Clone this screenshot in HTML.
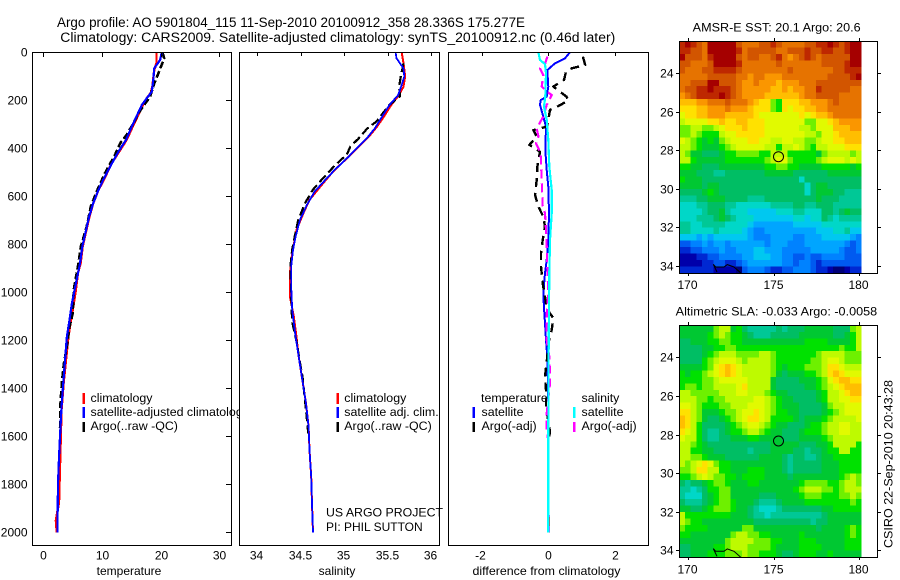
<!DOCTYPE html>
<html lang="en">
<head>
<meta charset="utf-8">
<title>Argo profile 5901804_115</title>
<style>
html,body{margin:0;padding:0;background:#fff;}
svg{display:block;}
text{font-family:"Liberation Sans",sans-serif;font-size:12px;fill:#000;}
.title{font-size:13.5px;}
.lg{font-size:12.4px;}
.mid{text-anchor:middle;}
.end{text-anchor:end;}
</style>
</head>
<body>
<svg id="fig" xmlns="http://www.w3.org/2000/svg" width="900" height="580" viewBox="0 0 900 580">
<defs>
<clipPath id="clip-t"><rect x="33" y="53" width="198" height="492"/></clipPath>
<clipPath id="clip-s"><rect x="240" y="53" width="199" height="492"/></clipPath>
<clipPath id="clip-d"><rect x="449" y="53" width="199" height="492"/></clipPath>
<clipPath id="clip-m1"><rect x="680" y="42" width="197" height="231"/></clipPath>
<clipPath id="clip-m2"><rect x="680" y="326" width="197" height="231"/></clipPath>
</defs>
<rect x="0" y="0" width="900" height="580" fill="#fff"/>
<text class="title" x="57" y="27" textLength="468" lengthAdjust="spacingAndGlyphs">Argo profile: AO 5901804_115 11-Sep-2010 20100912_358 28.336S 175.277E</text>
<text class="title" x="60.3" y="42" textLength="555" lengthAdjust="spacingAndGlyphs">Climatology: CARS2009. Satellite-adjusted climatology: synTS_20100912.nc (0.46d later)</text>

<g id="p1">
<rect x="32.5" y="52.5" width="199" height="493" fill="#fff"/>
<g id="p1-data" clip-path="url(#clip-t)"></g>
<g id="p1-ticks"></g>
<rect x="32.5" y="52.5" width="199" height="493" fill="none" stroke="#000" stroke-width="1"/>
<rect x="82.5" y="393" width="2.5" height="11" fill="#f00"/>
<rect x="82.5" y="407" width="2.5" height="11" fill="#00f"/>
<rect x="82.5" y="422" width="2.5" height="10" fill="#000"/>
<text class="lg" x="90.5" y="402">climatology</text>
<text class="lg" x="90.5" y="416">satellite-adjusted climatology</text>
<text class="lg" x="90.5" y="430">Argo(..raw -QC)</text>
<text class="mid" x="129" y="575">temperature</text>
</g>

<g id="p2">
<rect x="239.5" y="52.5" width="200" height="493" fill="#fff"/>
<g id="p2-data" clip-path="url(#clip-s)"></g>
<g id="p2-ticks"></g>
<rect x="239.5" y="52.5" width="200" height="493" fill="none" stroke="#000" stroke-width="1"/>
<rect x="336.5" y="393" width="2.5" height="11" fill="#f00"/>
<rect x="336.5" y="407" width="2.5" height="11" fill="#00f"/>
<rect x="336.5" y="422" width="2.5" height="10" fill="#000"/>
<text class="lg" x="344.3" y="402">climatology</text>
<text class="lg" x="344.3" y="416">satellite adj. clim.</text>
<text class="lg" x="344.3" y="430">Argo(..raw -QC)</text>
<text x="326" y="516.5" textLength="117" lengthAdjust="spacingAndGlyphs">US ARGO PROJECT</text>
<text x="326" y="531">PI: PHIL SUTTON</text>
<text class="mid" x="337" y="575">salinity</text>
</g>

<g id="p3">
<rect x="448.5" y="52.5" width="200" height="493" fill="#fff"/>
<g id="p3-data" clip-path="url(#clip-d)"></g>
<g id="p3-ticks"></g>
<rect x="448.5" y="52.5" width="200" height="493" fill="none" stroke="#000" stroke-width="1"/>
<text class="lg" x="481" y="402">temperature</text>
<rect x="472.5" y="407" width="2.5" height="11" fill="#00f"/>
<rect x="472.5" y="422" width="2.5" height="10" fill="#000"/>
<text class="lg" x="481.5" y="416">satellite</text>
<text class="lg" x="481.5" y="430">Argo(-adj)</text>
<text class="lg" x="581.5" y="402">salinity</text>
<rect x="573" y="407" width="2.5" height="11" fill="#0ff"/>
<rect x="573" y="422" width="2.5" height="10" fill="#f0f"/>
<text class="lg" x="581.5" y="416">satellite</text>
<text class="lg" x="581.5" y="430">Argo(-adj)</text>
<text class="mid" x="546.5" y="575" textLength="148" lengthAdjust="spacingAndGlyphs">difference from climatology</text>
</g>

<g id="m1">
<text x="692.7" y="31.5" textLength="168" lengthAdjust="spacingAndGlyphs">AMSR-E SST: 20.1 Argo: 20.6</text>
<g id="m1-cells" clip-path="url(#clip-m1)"></g>
<g id="m1-over" clip-path="url(#clip-m1)"></g>
<g id="m1-ticks"></g>
<rect x="679.5" y="41.5" width="198" height="232" fill="none" stroke="#000" stroke-width="1"/>
</g>

<g id="m2">
<text x="675.7" y="315.5" textLength="201.5" lengthAdjust="spacingAndGlyphs">Altimetric SLA: -0.033 Argo: -0.0058</text>
<g id="m2-cells" clip-path="url(#clip-m2)"></g>
<g id="m2-over" clip-path="url(#clip-m2)"></g>
<g id="m2-ticks"></g>
<rect x="679.5" y="325.5" width="198" height="232" fill="none" stroke="#000" stroke-width="1"/>
</g>

<text class="mid" transform="translate(892.7 464) rotate(-90)" textLength="168" lengthAdjust="spacingAndGlyphs">CSIRO 22-Sep-2010 20:43:28</text>
</svg>

<script>
// ---- tick labels ----
const depthTicks = [0,200,400,600,800,1000,1200,1400,1600,1800,2000];
const tempTicks = [0,10,20,30];
const salTicks = [34,34.5,35,35.5,36];
const diffTicks = [-2,0,2];
const lonTicks = [170,175,180];
const latTicks = [24,26,28,30,32,34];

// ---- temperature panel series ----
const tClimDepth = [0,46,74,143,170,192,219,261,303,365,407,462,532,574,629,685,740,810,879,920,988,1062,1180,1285,1382,1490,1674,1875,1951,2000];
const tClimVals = [19.3,19.3,18.9,18.6,18.3,17.6,17.0,16.2,15.35,14.2,13.1,11.65,10.3,9.4,8.5,7.85,7.35,6.7,6.35,5.9,5.55,5.1,4.3,3.85,3.45,3.1,2.9,2.67,2.15,2.3];
const tSatDepth = [0,32,67,115,164,192,219,261,303,365,414,476,532,574,629,685,740,810,879,935,988,1049,1118,1188,1285,1382,1479,1576,1688,1799,2000];
const tSatVals = [20.2,19.9,18.9,18.75,18.5,17.6,16.8,16.0,15.2,14.1,12.8,11.4,10.2,9.4,8.5,7.8,7.3,6.65,6.25,5.8,5.35,4.85,4.45,4.0,3.7,3.4,3.1,2.9,2.67,2.5,2.4];
const tArgoDepth = [0,25,108,129,185,226,254,303,344,379,428,504,580,643,726,810,879,988,1090,1146,1229,1299,1368,1451,1576];
const tArgoVals = [20.3,20.6,19.3,18.9,18.2,17.0,16.2,15.2,14.2,13.1,12.2,10.5,9.1,8.1,7.4,6.4,6.0,5.2,5.0,4.45,4.0,3.5,3.2,2.95,2.85];

// ---- salinity panel series ----
const sClimDepth = [0,46,101,143,178,219,271,313,352,428,497,553,615,671,740,838,921,1017,1101,1185,1254,1324,1393,1463,1560,1657,1768,1893,2001];
const sClimVals = [35.66,35.68,35.7,35.68,35.63,35.54,35.45,35.37,35.28,35.07,34.87,34.74,34.6,34.53,34.45,34.4,34.375,34.375,34.42,34.45,34.47,34.5,34.53,34.56,34.59,34.6,34.62,34.63,34.64];
const sSatDepth = [0,25,46,67,101,136,178,219,271,317,358,393,435,490,532,580,636,699,768,824,893,976,1065,1101,1185,1254,1324,1393,1463,1560,1657,1768,1893,2001];
const sSatVals = [35.59,35.6,35.64,35.68,35.69,35.66,35.62,35.52,35.43,35.35,35.26,35.16,35.05,34.89,34.78,34.66,34.57,34.49,34.44,34.41,34.39,34.39,34.4,34.41,34.44,34.47,34.5,34.53,34.56,34.59,34.6,34.62,34.63,34.64];
const sArgoDepth = [46,101,143,183,219,260,288,319,361,392,426,472,531,572,628,699,768,824,893,1017,1074,1122,1171,1213,1282,1351,1490,1546,1588];
const sArgoVals = [35.68,35.65,35.63,35.64,35.52,35.43,35.37,35.26,35.16,35.07,35.03,34.89,34.74,34.64,34.55,34.47,34.43,34.4,34.38,34.39,34.395,34.4,34.43,34.455,34.485,34.52,34.56,34.575,34.585];

// ---- difference panel series ----
const dTSatDepth = [0,25,46,74,143,185,199,219,268,310,407,490,560,671,782,865,921,1004,1067,1129,1199,1268,1449,2000];
const dTSatVals = [0.66,0.51,0.21,-0.02,0.01,-0.04,-0.22,-0.24,-0.14,-0.06,-0.08,-0.04,0.01,0.03,0.01,-0.04,-0.09,-0.14,-0.12,-0.09,-0.06,-0.02,0.01,0.01];
const dTArgoDepth = [18,53,67,81,115,143,164,185,201,224,240,282,310,324,351,386,414,476,532,594,643,685,726,782,838,893,963,1018,1067,1108,1157,1213,1268,1351,1407,1476,1581,1620,2000];
const dTArgoVals = [1.05,1.12,0.71,0.54,0.48,0.16,0.36,0.56,0.61,0.31,0.06,0.01,-0.04,-0.44,-0.34,-0.56,-0.24,-0.32,-0.34,-0.39,-0.29,-0.14,-0.09,-0.16,-0.21,-0.21,-0.16,-0.09,-0.04,0.16,0.11,0.01,-0.02,-0.09,-0.06,-0.06,0.06,0.01,0.01];
const dSArgoDepth = [18,49,67,94,143,164,178,219,268,317,351,379,421,532,643,671,740,810,893,1004,1088,1199,1268,1345,1380,1504,1574,1620];
const dSArgoVals = [-0.02,-0.09,-0.24,-0.14,-0.19,-0.04,0.11,-0.04,-0.14,-0.34,-0.29,-0.36,-0.22,-0.19,-0.16,-0.09,-0.06,-0.04,-0.02,0.01,-0.04,-0.04,0.04,0.06,0.06,-0.04,-0.04,0.01];
const dSSatDepth = [0,32,49,88,185,226,282,365,476,574,671,782,921,1067,1199,1588,1865,2001];
const dSSatVals = [-0.29,-0.24,-0.09,-0.06,-0.08,-0.12,-0.04,0.01,0.04,0.11,0.11,0.06,0.04,0.03,0.02,0.01,0.01,0];

// ---- profile position and coastline (longitude, degrees south) ----
const profileLon = [175.277];
const profileLat = [28.336];
const coastLon = [171.68,171.46,171.6,172.09,172.28,172.67,173.06];
const coastLat = [34.31,33.91,34.05,34.05,33.93,34.05,34.35];

// ---- heatmap values: colour level per 1/3-degree cell, north to south ----
const sstLevels = [
[20,21,20,19,18,21,21,21,21,21,19,18,18,18,19,19,20,19,18,18,18,18,19,19,20,20,21,20,19,20,21,21],
[20,20,19,19,18,21,21,21,21,21,20,18,19,19,19,19,19,18,18,19,19,19,20,19,19,20,20,19,19,20,21,21],
[21,19,19,19,18,20,21,21,21,21,19,18,19,19,18,18,19,20,18,17,18,19,20,19,18,19,19,19,19,19,21,21],
[19,19,18,18,18,19,21,21,21,21,20,18,18,18,18,18,18,19,18,18,18,18,18,18,18,19,19,19,19,20,21,21],
[19,18,18,18,19,19,20,20,20,20,19,18,18,18,18,18,18,18,18,19,18,18,18,18,18,18,18,19,19,20,20,20],
[18,18,18,18,18,19,19,19,19,19,18,18,17,18,18,17,17,17,18,18,18,18,18,18,18,18,19,19,19,19,20,21],
[18,18,19,19,19,21,21,19,19,19,18,17,17,18,17,17,17,16,17,17,17,18,18,18,19,19,19,19,19,19,19,19],
[18,19,19,20,20,21,20,20,20,19,18,17,17,17,17,17,16,16,17,16,17,17,18,18,20,19,19,19,19,19,18,18],
[17,18,19,20,20,20,20,21,20,19,18,17,17,17,17,16,16,16,16,16,16,17,18,18,19,19,19,19,18,18,18,18],
[16,16,16,17,17,18,18,18,19,18,18,18,17,16,15,15,12,11,15,15,15,16,16,17,17,17,18,19,18,18,18,18],
[15,15,15,16,16,17,17,17,18,17,17,17,16,15,15,15,12,11,15,14,15,15,16,16,17,17,18,18,18,18,18,18],
[14,15,15,16,16,17,17,17,16,16,16,16,16,15,14,14,14,14,14,14,14,15,14,15,16,16,17,18,18,18,18,18],
[13,14,14,14,14,15,15,16,15,15,16,16,15,15,15,14,14,14,14,14,14,14,12,12,14,14,15,16,17,17,17,17],
[12,12,13,13,12,12,13,14,15,15,15,16,15,15,15,14,14,14,14,14,14,13,13,12,14,14,14,16,16,16,17,17],
[12,12,13,12,11,11,11,13,14,14,15,15,15,15,15,14,14,14,14,14,14,14,13,13,12,14,14,15,16,16,16,16],
[14,13,12,11,10,11,10,12,13,14,14,14,15,15,14,14,13,13,14,14,13,13,12,12,13,14,14,15,15,16,16,16],
[13,13,12,11,10,10,10,11,12,13,14,14,14,14,14,13,13,11,13,13,14,13,12,11,13,13,14,14,14,15,15,15],
[13,12,10,10,9,9,9,10,11,11,12,12,12,12,11,11,13,13,13,11,11,11,11,11,10,12,13,13,13,13,12,13],
[13,13,11,10,10,10,10,10,11,11,11,11,11,11,11,12,13,14,14,12,11,11,11,11,12,13,14,14,14,13,14,13],
[11,11,10,10,9,9,9,10,10,10,10,10,10,10,10,11,11,12,12,11,11,10,10,10,10,11,11,11,11,11,10,11],
[10,10,10,9,9,9,8,8,9,9,9,9,9,9,9,10,10,10,10,10,9,9,9,9,9,9,10,10,10,10,10,10],
[11,10,10,10,9,9,9,9,9,9,9,9,9,9,9,9,9,9,9,9,9,7,9,9,9,9,9,9,9,9,9,9],
[10,10,10,10,9,10,10,9,9,9,9,9,9,9,9,9,9,9,9,9,9,9,7,9,10,10,9,9,9,9,9,9],
[9,9,9,9,10,11,10,9,9,9,9,9,9,9,9,9,9,9,9,9,9,9,7,9,10,10,10,9,9,8,8,8],
[8,8,8,9,9,10,10,10,9,9,9,9,8,8,8,9,9,9,9,9,9,9,9,9,10,9,9,9,8,8,8,8],
[7,7,7,8,8,9,9,9,8,8,7,7,7,7,7,7,8,8,8,8,9,9,8,8,9,9,9,8,8,8,8,8],
[7,7,7,7,8,9,9,10,8,7,7,7,6,6,6,6,6,7,7,7,8,8,7,7,7,9,9,8,9,10,9,9],
[7,7,7,8,8,8,9,10,9,8,7,7,7,6,6,6,6,6,6,6,7,7,6,7,7,9,8,7,8,8,8,8],
[8,8,7,7,8,8,8,8,7,7,7,7,6,5,5,5,5,5,5,5,6,6,6,6,6,7,7,7,7,7,7,7],
[8,8,7,7,7,7,8,7,7,7,7,6,5,4,4,5,5,5,5,5,5,5,5,5,6,6,6,7,7,8,6,6],
[6,6,6,5,6,5,6,6,6,6,6,6,5,4,4,4,5,5,5,5,4,4,5,5,5,6,6,6,6,6,5,4],
[3,3,4,4,5,4,5,5,4,5,5,5,5,5,5,4,5,5,5,4,4,4,5,5,5,5,5,5,5,4,3,4],
[2,2,3,3,4,4,4,5,4,4,5,5,5,6,6,5,5,5,4,4,4,4,4,5,5,5,5,5,4,3,3,4],
[1,1,1,2,2,3,3,4,4,4,4,5,5,6,6,6,5,5,4,4,3,3,4,3,3,4,4,4,4,3,3,3],
[1,1,1,1,2,2,3,3,2,2,3,4,5,5,5,5,5,5,4,4,3,4,4,3,2,3,3,3,3,3,3,3],
[2,2,2,2,2,2,1,1,1,1,0,3,4,4,4,3,2,2,3,3,4,4,4,3,2,2,1,0,0,1,2,2]
];
const slaLevels = [
[10,10,10,10,10,10,12,13,13,10,11,9,8,8,8,8,8,9,8,9,9,9,10,10,10,10,10,9,9,9,12,13],
[10,10,10,10,10,11,12,13,12,11,11,10,9,8,8,8,9,9,9,9,9,10,10,10,10,10,10,9,9,10,11,13],
[9,9,10,10,10,11,11,12,12,11,11,10,10,10,10,10,10,10,10,10,10,10,11,11,11,11,10,10,10,10,11,13],
[9,9,9,9,10,10,11,11,12,12,11,11,11,11,11,11,11,11,11,11,11,11,11,11,11,11,11,11,12,11,11,13],
[9,9,9,9,10,11,12,13,13,13,12,12,12,12,13,13,12,11,11,11,11,11,11,11,12,13,13,13,13,12,12,12],
[9,9,9,9,11,12,13,14,14,14,13,12,13,13,13,13,12,11,11,11,11,11,11,12,12,13,14,14,13,12,12,12],
[10,10,10,10,11,12,14,15,16,15,14,13,13,13,13,13,12,11,10,11,11,11,12,12,12,13,15,15,14,13,13,13],
[11,10,11,11,12,13,14,15,16,15,14,13,13,13,13,13,12,10,9,10,10,10,11,11,12,13,15,16,15,14,14,14],
[11,11,11,11,12,12,13,14,14,14,14,14,13,13,13,13,10,9,9,9,9,10,10,10,11,12,14,15,16,16,15,15],
[11,12,12,11,12,12,13,13,13,13,14,15,13,13,13,13,10,9,9,9,9,9,10,10,11,12,13,14,15,16,16,16],
[13,13,12,12,12,12,12,13,13,13,14,14,13,13,13,12,11,10,10,9,9,9,9,9,10,11,13,13,14,15,16,16],
[13,13,13,12,12,11,12,12,13,13,13,13,13,14,14,13,12,11,10,10,9,9,9,9,10,11,13,13,14,14,15,15],
[14,14,13,12,11,11,11,12,12,13,13,13,14,14,14,13,12,11,10,10,10,9,9,9,9,10,12,13,13,14,14,14],
[15,15,13,12,10,10,10,11,12,12,13,14,14,15,14,13,12,11,11,10,10,9,9,9,9,10,11,12,13,14,14,14],
[16,15,13,12,10,9,9,10,11,12,13,14,15,15,14,13,11,11,11,11,10,9,10,10,10,11,12,13,13,13,13,14],
[16,15,13,11,9,9,9,9,10,11,12,13,14,14,13,12,11,10,10,9,9,9,10,11,11,12,13,13,14,14,13,13],
[15,14,13,11,9,8,8,9,10,11,11,12,13,13,12,11,10,10,9,9,9,10,11,11,11,12,13,13,14,14,13,13],
[14,13,13,11,9,8,8,9,9,10,10,10,11,11,10,10,10,10,9,9,9,10,10,10,10,11,12,13,13,13,13,13],
[13,13,12,11,10,9,9,9,9,9,9,9,9,9,9,9,10,10,10,10,10,9,9,9,10,10,11,13,13,13,13,11],
[13,13,11,11,10,10,9,9,9,9,9,9,8,9,9,9,10,10,10,10,9,9,8,9,9,10,11,11,13,13,11,11],
[13,13,12,12,11,10,10,10,9,9,9,9,9,9,10,10,10,10,9,8,9,9,8,8,9,10,10,11,11,11,11,11],
[13,12,13,14,15,14,12,11,11,10,10,10,10,10,10,10,10,10,9,8,9,9,9,9,9,10,10,10,11,11,11,11],
[12,12,13,15,15,13,13,11,11,10,10,10,11,11,11,10,10,10,9,8,9,9,9,9,9,10,10,10,11,11,11,11],
[11,11,12,13,14,13,12,12,11,11,10,11,11,11,11,10,10,10,10,9,10,10,10,10,10,10,10,10,11,12,13,12],
[9,8,9,9,10,11,12,12,11,10,10,10,11,11,10,10,10,10,10,10,10,11,12,12,12,12,11,11,12,13,13,12],
[8,8,7,8,9,11,11,12,12,10,10,10,10,10,10,10,10,10,10,10,11,12,13,13,13,12,12,11,12,13,13,13],
[8,7,7,7,9,10,11,12,12,10,10,10,10,10,9,9,9,10,10,10,10,11,12,12,12,11,11,11,12,12,13,12],
[9,8,8,8,9,10,11,12,12,11,10,10,10,9,8,8,8,9,10,10,10,10,11,11,11,11,11,11,11,11,12,11],
[10,10,9,9,10,11,12,12,12,11,10,10,9,8,7,7,7,8,9,9,9,9,9,9,9,10,10,11,11,11,11,11],
[13,11,11,11,11,11,11,11,11,10,10,10,9,8,8,7,8,8,8,8,8,8,8,8,8,9,10,10,10,10,10,10],
[13,12,11,11,10,10,10,10,10,10,10,10,10,9,9,9,9,9,9,9,9,9,9,8,9,9,10,10,10,10,10,10],
[12,11,11,11,11,10,10,10,10,10,10,12,12,10,10,10,10,10,10,10,10,10,10,10,9,10,10,10,10,11,12,11],
[11,11,10,10,10,10,10,10,10,12,13,13,12,12,11,11,10,10,10,10,10,11,10,10,10,10,10,10,10,11,12,11],
[10,10,10,10,10,10,10,10,12,13,13,13,13,12,12,12,11,11,10,10,10,11,11,11,10,10,10,10,10,11,11,11],
[9,9,10,10,10,10,11,11,12,13,13,13,12,12,12,12,11,10,10,10,10,11,11,11,11,10,10,10,10,11,11,11],
[9,9,10,10,10,11,11,11,12,12,12,13,12,12,11,11,11,10,9,9,10,11,11,11,10,10,11,10,10,10,10,10]
];

const colorScale = ['#000078','#0000aa','#0028d2','#005af0','#0082ff','#00a5ff','#00c8f0','#00d7c8','#00c896','#00be64','#00c832','#00e100','#6ef000','#befa00','#e1fa00','#ffe100','#ffbe00','#fa9600','#e67300','#d25500','#be2800','#a50000'];

const NS = 'http://www.w3.org/2000/svg';
function mk(tag, parent, attrs){
  const el = document.createElementNS(NS, tag);
  for (const k in attrs) el.setAttribute(k, attrs[k]);
  parent.appendChild(el);
  return el;
}
const $ = id => document.getElementById(id);

// axis functions
const yDepth = d => 52.3 + d * 0.24;
const xTemp = v => 43.3 + v * 5.867;
const xSal = v => 257.3 + (v - 34) * 87;
const xDiff = v => 548 + v * 33.25;
const xLon = v => 688.3 + (v - 170) * 17.1;
const yLat1 = v => 73 + (v - 24) * 19.3;
const yLat2 = v => 357.3 + (v - 24) * 19.3;

function line(parent, vals, depths, xf, color, width, dash){
  const pts = vals.map((v, i) => xf(v).toFixed(1) + ',' + yDepth(depths[i]).toFixed(1)).join(' ');
  const el = mk('polyline', parent, {points: pts, fill: 'none', stroke: color, 'stroke-width': width, 'stroke-linejoin': 'round', 'shape-rendering': 'crispEdges'});
  if (dash) el.setAttribute('stroke-dasharray', dash);
  return el;
}

let s;
// temperature series
s = line($('p1-data'), tClimVals, tClimDepth, xTemp, '#f00', 2.4);


s = line($('p1-data'), tArgoVals, tArgoDepth, xTemp, '#000', 2.6, '7 3');


s = line($('p1-data'), tSatVals, tSatDepth, xTemp, '#00f', 2.2);



// salinity series
s = line($('p2-data'), sClimVals, sClimDepth, xSal, '#f00', 2);


s = line($('p2-data'), sArgoVals, sArgoDepth, xSal, '#000', 2.2, '9 4');


s = line($('p2-data'), sSatVals, sSatDepth, xSal, '#00f', 1.8);



// difference series
s = line($('p3-data'), dTSatVals, dTSatDepth, xDiff, '#00f', 2);


s = line($('p3-data'), dTArgoVals, dTArgoDepth, xDiff, '#000', 2.4, '9 6');


s = line($('p3-data'), dSArgoVals, dSArgoDepth, xDiff, '#f0f', 2.2, '9 5');


s = line($('p3-data'), dSSatVals, dSSatDepth, xDiff, '#0ff', 2.2);



function tickMark(parent, x1, y1, x2, y2){
  return mk('line', parent, {x1: x1, y1: y1, x2: x2, y2: y2, stroke: '#000', 'stroke-width': 1, 'shape-rendering': 'crispEdges'});
}
function label(parent, x, y, txt, anchor){
  const el = mk('text', parent, {x: x, y: y, 'text-anchor': anchor});
  el.textContent = txt;
  return el;
}

// profile axes
depthTicks.forEach(d => {
  const y = Math.round(yDepth(d)) + 0.5;
  const m = tickMark($('p1-ticks'), 226, y, 231, y);
  
  
  const t = label($('p1-ticks'), 27.5, y + 4.2, String(d), 'end');
  
  
});
tempTicks.forEach(v => {
  const x = Math.round(xTemp(v)) + 0.5;
  const m = tickMark($('p1-ticks'), x, 53, x, 57);
  
  
  const t = label($('p1-ticks'), x, 559.5, String(v), 'middle');
  
  
});
salTicks.forEach(v => {
  const x = Math.round(xSal(v)) + 0.5;
  const m = tickMark($('p2-ticks'), x, 53, x, 56);
  
  
  const t = label($('p2-ticks'), x - 1, 559.5, String(v), 'middle');
  
  
});
diffTicks.forEach(v => {
  const x = Math.round(xDiff(v)) + 0.5;
  const m = tickMark($('p3-ticks'), x, 53, x, 56);
  
  
  const t = label($('p3-ticks'), x - (v < 0 ? 2 : 0), 559.5, String(v), 'middle');
  
  
});

// heatmaps
const lonStart = 169.47, latStart = 22.35, cellDeg = 1 / 3;
sstLevels.forEach((row, r) => row.forEach((v, c) => {
  const x0 = xLon(lonStart + c * cellDeg), x1 = xLon(lonStart + (c + 1) * cellDeg);
  const y0 = yLat1(latStart + r * cellDeg), y1 = yLat1(latStart + (r + 1) * cellDeg);
  const cell = mk('rect', $('m1-cells'), {x: x0.toFixed(2), y: y0.toFixed(2), width: (x1 - x0).toFixed(2), height: (y1 - y0).toFixed(2), fill: colorScale[v], 'shape-rendering': 'crispEdges'});
  
  
}));
slaLevels.forEach((row, r) => row.forEach((v, c) => {
  const x0 = xLon(lonStart + c * cellDeg), x1 = xLon(lonStart + (c + 1) * cellDeg);
  const y0 = yLat2(latStart + r * cellDeg), y1 = yLat2(latStart + (r + 1) * cellDeg);
  const cell = mk('rect', $('m2-cells'), {x: x0.toFixed(2), y: y0.toFixed(2), width: (x1 - x0).toFixed(2), height: (y1 - y0).toFixed(2), fill: colorScale[v], 'shape-rendering': 'crispEdges'});
  
  
}));

// map overlays and axes
[[ 'm1', yLat1, 41, 273, 289 ], [ 'm2', yLat2, 325, 557, 573.3 ]].forEach(cfg => {
  const over = $(cfg[0] + '-over'), ticks = $(cfg[0] + '-ticks'), yf = cfg[1];
  const coast = mk('polyline', over, {points: coastLon.map((v, i) => xLon(v).toFixed(1) + ',' + yf(coastLat[i]).toFixed(1)).join(' '), fill: 'none', stroke: '#000', 'stroke-width': 1});
  
  
  const marker = mk('circle', over, {cx: xLon(profileLon[0]).toFixed(1), cy: yf(profileLat[0]).toFixed(1), r: 5, fill: 'none', stroke: '#000', 'stroke-width': 1});
  
  
  lonTicks.forEach(v => {
    const x = Math.round(xLon(v)) + 0.5;
    const a = tickMark(ticks, x, cfg[2] - 3, x, cfg[2]);
    
    
    const b = tickMark(ticks, x, cfg[3], x, cfg[3] + 3);
    
    
    const t = label(ticks, x - 1, cfg[4], String(v), 'middle');
    
    
  });
  latTicks.forEach(v => {
    const y = Math.round(yf(v)) + 0.5;
    const a = tickMark(ticks, 676, y, 679, y);
    
    
    const b = tickMark(ticks, 878, y, 881, y);
    
    
    const t = label(ticks, 673.5, y + 4.2, String(v), 'end');
    
    
  });
});
</script>
</body>
</html>
